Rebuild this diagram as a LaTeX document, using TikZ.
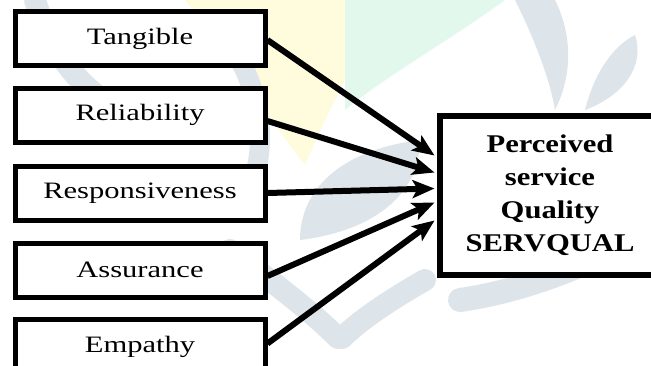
\documentclass[tikz,border=0pt]{standalone}
\usepackage{fontspec}
\setmainfont{Liberation Serif}
\usetikzlibrary{arrows.meta,calc}

\definecolor{wmgrey}{RGB}{222,229,234}
\definecolor{wmyellow}{RGB}{255,252,222}
\definecolor{wmgreen}{RGB}{226,248,236}

% widened lettering used in every box
\newcommand{\widetext}[2][1.3]{\scalebox{#1}[1]{#2}}

\tikzset{
  factor/.style={draw=black, line width=5pt, fill=white,
    minimum width=250pt, minimum height=54pt, inner sep=0pt,
    font=\fontsize{23.5}{26}\selectfont},
  result/.style={draw=black, line width=6pt, fill=white,
    minimum width=221pt, minimum height=159pt, inner sep=0pt,
    align=center, font=\fontsize{25.5}{33}\selectfont\bfseries},
  link/.style={line width=6pt, -{Stealth[length=22pt,width=18pt,inset=5pt]}},
  wm/.style={line width=#1, line cap=round},
}

\begin{document}
\begin{tikzpicture}[x=1pt,y=-1pt]
\useasboundingbox (0,0) rectangle (651,365);
\clip (0,0) rectangle (651,365);
\fill[white] (0,0) rectangle (651,365);

% faint emblem behind the diagram
\fill[wmyellow] (185,0) .. controls (230,60) and (270,120) .. (305,165)
  .. controls (320,130) and (335,100) .. (345,80) -- (345,0) -- cycle;
\fill[wmgreen] (345,0) -- (345,110) .. controls (380,80) and (450,40) .. (505,0) -- cycle;
\draw[wmgrey, wm=22pt] (35,0) .. controls (50,50) and (80,90) .. (120,110);
\draw[wmgrey, wm=20pt] (210,20) .. controls (250,60) and (270,120) .. (255,175);
\draw[wmgrey, wm=22pt] (230,250) .. controls (270,280) and (310,310) .. (338,338);
\draw[wmgrey, wm=22pt] (425,280) .. controls (390,300) and (360,320) .. (342,338);
\fill[wmgrey] (300,240) .. controls (300,190) and (340,150) .. (420,140)
  .. controls (420,190) and (380,230) .. (300,240) -- cycle;
\draw[wmgrey, wm=24pt] (460,300) .. controls (530,290) and (600,260) .. (651,230);
\fill[wmgrey] (515,0) .. controls (535,40) and (550,80) .. (555,110)
  .. controls (575,70) and (570,30) .. (555,0) -- cycle;
\fill[wmgrey] (585,110) .. controls (595,70) and (615,45) .. (635,35)
  .. controls (645,65) and (625,95) .. (585,110) -- cycle;

% the five service dimensions
\node[factor] (tan) at (140,38.5) {\widetext{Tangible}};
\node[factor] (rel) at (140,115)  {\widetext{Reliability}};
\node[factor] (res) at (140,193)  {\widetext{Responsiveness}};
\node[factor] (ass) at (140,270)  {\widetext{Assurance}};
\node[factor] (emp) at (140,346.5) {\raisebox{3pt}{\widetext{Empathy}}};

% overall construct
\node[result] (q) at (550,195.5)
  {\widetext[1.2]{Perceived}\\ \widetext[1.2]{service}\\
   \widetext[1.2]{Quality}\\ \widetext[1.2]{SERVQUAL}};

% arrow targets along the left side of the construct box
\coordinate (t1) at ([xshift=-2pt,yshift=40pt]q.west);
\coordinate (t2) at ([xshift=-2pt,yshift=23pt]q.west);
\coordinate (t3) at ([xshift=-2pt,yshift=7pt]q.west);
\coordinate (t4) at ([xshift=-2pt,yshift=-7pt]q.west);
\coordinate (t5) at ([xshift=-2pt,yshift=-25pt]q.west);

\draw[link] ([yshift=-1.5pt]tan.east) -- (t1);
\draw[link] ([yshift=-6pt]rel.east) -- (t2);
\draw[link] (res.east) -- (t3);
\draw[link] ([yshift=-6pt]ass.east) -- (t4);
\draw[link] ([yshift=3pt]emp.east) -- (t5);
\end{tikzpicture}
\end{document}
